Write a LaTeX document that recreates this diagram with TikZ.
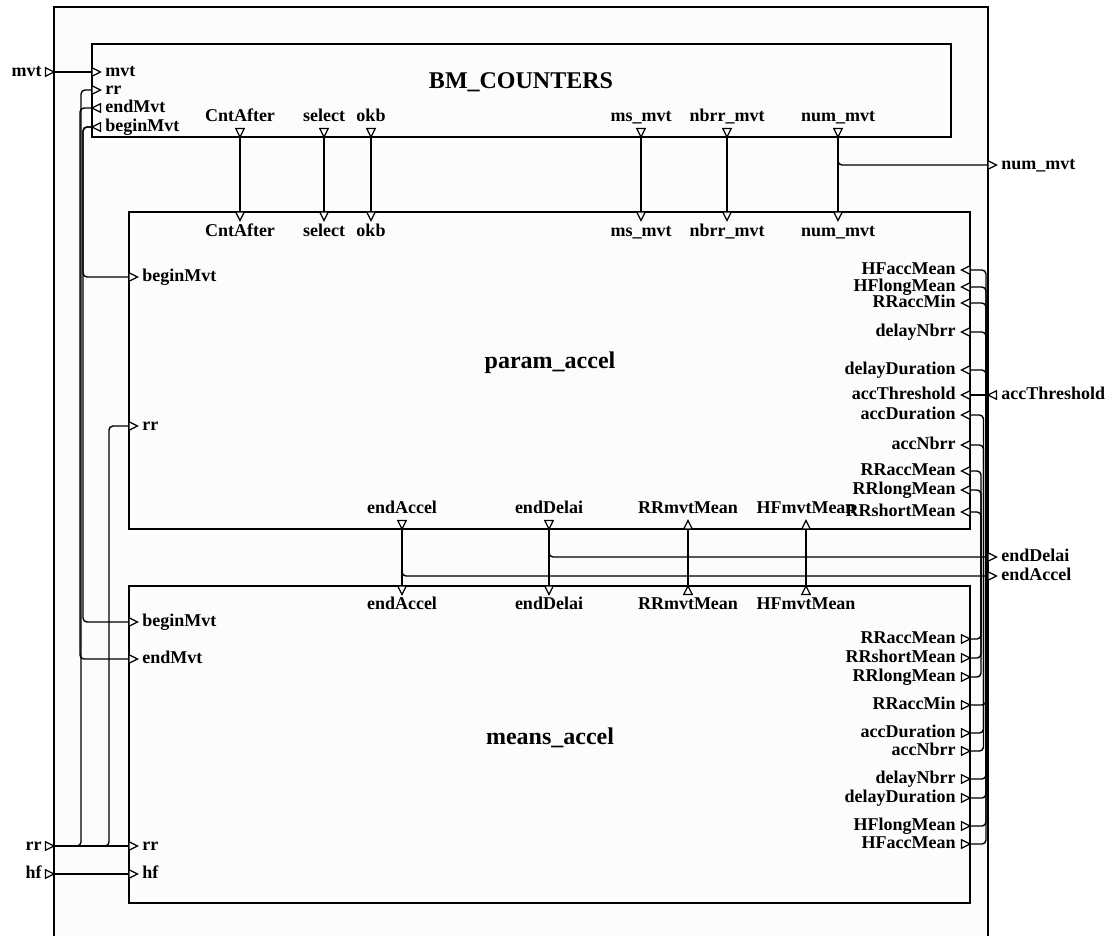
\documentclass[tikz,border=0pt]{standalone}
\usepackage{fontspec}
\setmainfont{Liberation Serif}

\begin{document}
\begin{tikzpicture}[x=0.5pt, y=-0.5pt,
    font=\fontsize{9}{10}\selectfont\bfseries,
    frame/.style={draw, line width=0.8pt},
    wire/.style={line width=0.7pt, rounded corners=2pt},
    lbl/.style={inner sep=1pt, text height=6pt, text depth=1.5pt},
    title/.style={font=\fontsize{12}{14}\selectfont\bfseries},
    pics/pin/.style={code={\draw[line width=0.6pt, fill=white] (0,-4.25) -- (8.5,0) -- (0,4.25) -- cycle;}}]
    \useasboundingbox (0,0) rectangle (1113,936);

    % Outer frame
    \fill[black!1] (54,7) rectangle (988,936);
    \draw[line width=1pt] (54,936) -- (54,7) -- (988,7) -- (988,936);

    % Blocks
    \draw[frame] (92,44) rectangle (951,137);
    \node[title] (bm) at (521,82) {BM\_COUNTERS};
    \draw[frame] (129,212) rectangle (970,529);
    \node[title] (pa) at (550,363) {param\_accel};
    \draw[frame] (129,586) rectangle (970,903);
    \node[title] (ma) at (550,738) {means\_accel};

    % BM_COUNTERS left ports
    \foreach \n/\y in {mvt/72, rr/90}{
        \coordinate (bm-\n) at (92,\y);
        \pic at (bm-\n) {pin};
        \node[lbl, anchor=west] (bm-\n-l) at (103,\y) {\n};
    }
    \foreach \n/\y in {endMvt/108, beginMvt/127}{
        \coordinate (bm-\n) at (92,\y);
        \pic[xscale=-1] at (100.5,\y) {pin};
        \node[lbl, anchor=west] (bm-\n-l) at (103,\y) {\n};
    }

    % BM_COUNTERS -> param_accel
    \foreach \n/\x/\t in {cnt/240/CntAfter, sel/324/select, okb/371/okb,
            ms/641/ms\_mvt, nbrr/727/nbrr\_mvt, num/838/num\_mvt}{
        \coordinate (bm-\n) at (\x,137);
        \pic[rotate=-90] at (\x,128.5) {pin};
        \node[lbl, anchor=south] (bm-\n-l) at (\x,127) {\t};
        \coordinate (pa-\n) at (\x,212);
        \pic[rotate=-90] at (pa-\n) {pin};
        \node[lbl, anchor=north] (pa-\n-l) at (\x,222) {\t};
        \draw[wire] (bm-\n) -- (pa-\n);
    }

    % param_accel left ports
    \foreach \n/\y in {beginMvt/277, rr/426}{
        \coordinate (pa-\n) at (129,\y);
        \pic at (pa-\n) {pin};
        \node[lbl, anchor=west] (pa-\n-l) at (140,\y) {\n};
    }

    % param_accel right ports
    \foreach \n/\y in {HFaccMean/270, HFlongMean/287, RRaccMin/303, delayNbrr/332,
            delayDuration/370, accThreshold/395, accDuration/415, accNbrr/445,
            RRaccMean/471, RRlongMean/490, RRshortMean/512}{
        \coordinate (pa-\n) at (970,\y);
        \pic[xscale=-1] at (pa-\n) {pin};
        \node[lbl, anchor=east] (pa-\n-l) at (958,\y) {\n};
    }

    % param_accel <-> means_accel
    \foreach \n/\x in {endAccel/402, endDelai/549}{
        \coordinate (pa-\n) at (\x,529);
        \pic[rotate=-90] at (\x,520.5) {pin};
        \node[lbl, anchor=south] (pa-\n-l) at (\x,519) {\n};
        \coordinate (ma-\n) at (\x,586);
        \pic[rotate=-90] at (ma-\n) {pin};
        \node[lbl, anchor=north] (ma-\n-l) at (\x,595) {\n};
        \draw[wire] (pa-\n) -- (ma-\n);
    }
    \foreach \n/\x in {RRmvtMean/688, HFmvtMean/806}{
        \coordinate (pa-\n) at (\x,529);
        \pic[rotate=90] at (pa-\n) {pin};
        \node[lbl, anchor=south] (pa-\n-l) at (\x,519) {\n};
        \coordinate (ma-\n) at (\x,586);
        \pic[rotate=90] at (\x,594.5) {pin};
        \node[lbl, anchor=north] (ma-\n-l) at (\x,595) {\n};
        \draw[wire] (ma-\n) -- (pa-\n);
    }

    % means_accel left ports
    \foreach \n/\y in {beginMvt/622, endMvt/659, rr/846, hf/874}{
        \coordinate (ma-\n) at (129,\y);
        \pic at (ma-\n) {pin};
        \node[lbl, anchor=west] (ma-\n-l) at (140,\y) {\n};
    }

    % means_accel right ports
    \foreach \n/\y in {RRaccMean/639, RRshortMean/658, RRlongMean/677, RRaccMin/705,
            accDuration/733, accNbrr/751, delayNbrr/779, delayDuration/798,
            HFlongMean/826, HFaccMean/844}{
        \coordinate (ma-\n) at (970,\y);
        \pic at (961.5,\y) {pin};
        \node[lbl, anchor=east] (ma-\n-l) at (958,\y) {\n};
    }

    % External ports
    \foreach \n/\y in {mvt/72, rr/846, hf/874}{
        \coordinate (ext-\n) at (54,\y);
        \pic at (45.5,\y) {pin};
        \node[lbl, anchor=east] (ext-\n-l) at (44,\y) {\n};
    }
    \foreach \n/\y/\t in {num/165/num\_mvt, endDelai/557/endDelai, endAccel/576/endAccel}{
        \coordinate (ext-\n) at (988,\y);
        \pic at (ext-\n) {pin};
        \node[lbl, anchor=west] (ext-\n-l) at (999,\y) {\t};
    }
    \coordinate (ext-accThreshold) at (988,395);
    \pic[xscale=-1] at (996.5,395) {pin};
    \node[lbl, anchor=west] (ext-accThreshold-l) at (999,395) {accThreshold};

    % Wires on the left
    \draw[wire] (ext-mvt) -- (bm-mvt);
    \draw[wire] (ext-rr) -- (ma-rr);
    \draw[wire] (ext-rr) -- (81,846) |- (bm-rr);
    \draw[wire] (ext-rr) -- (109,846) |- (pa-rr);
    \draw[wire] (ext-hf) -- (ma-hf);
    \draw[wire] (bm-endMvt) -- (80,108) |- (ma-endMvt);
    \draw[wire] (bm-beginMvt) -- (83,127) |- (pa-beginMvt);
    \draw[wire] (bm-beginMvt) -- (83,127) |- (ma-beginMvt);

    % Wires on the right
    \draw[wire] (bm-num) |- (ext-num);
    \draw[wire] (pa-endDelai) |- (ext-endDelai);
    \draw[wire] (pa-endAccel) |- (ext-endAccel);
    \draw[wire] (ext-accThreshold) -- (pa-accThreshold);
    \foreach \n/\dx in {HFaccMean/16, HFlongMean/16, RRaccMin/16, delayNbrr/16,
            delayDuration/16, accDuration/13.5, accNbrr/13.5,
            RRaccMean/11, RRlongMean/11, RRshortMean/11}{
        \draw[wire] (ma-\n) -- ++(\dx,0) |- (pa-\n);
    }
\end{tikzpicture}
\end{document}
